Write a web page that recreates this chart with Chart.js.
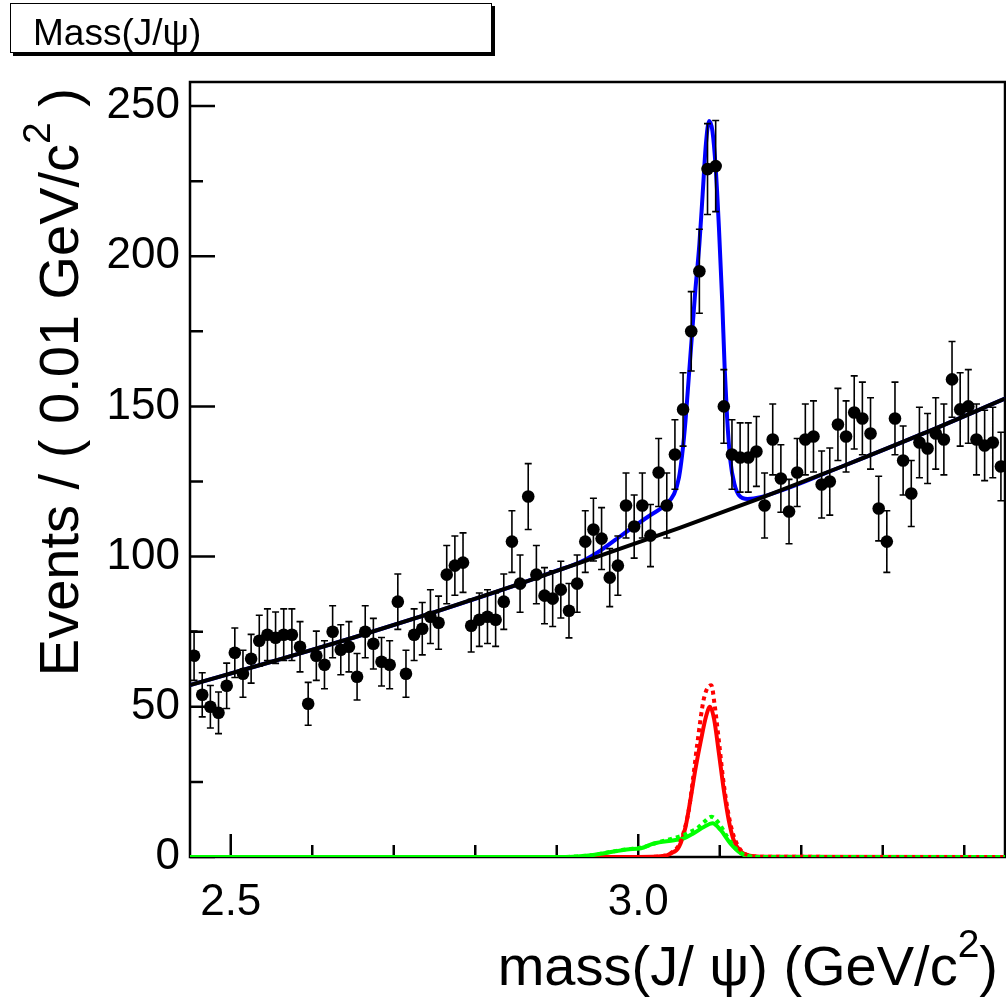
<!DOCTYPE html>
<html>
<head>
<meta charset="utf-8">
<script src="https://cdn.jsdelivr.net/npm/chart.js@4"></script>
<style>
  html, body { margin: 0; padding: 0; background: #fff; overflow: hidden; }
</style>
</head>
<body>
<canvas id="graficoMassa" width="1006" height="997"></canvas>
<script>
// histogram: 100 bins of 0.01 GeV/c2 between 2.45 and 3.45
const massMin = 2.45;
const massMax = 3.45;
const binWidth = 0.01;
const counts = [
  67, 54, 50, 48, 57, 68, 61, 66, 72, 74,
  73, 74, 74, 70, 51, 67, 64, 75, 69, 70,
  60, 75, 71, 65, 64, 85, 61, 74, 76, 80,
  78, 94, 97, 98, 77, 79, 80, 79, 85, 105,
  91, 120, 94, 87, 86, 89, 82, 91, 105, 109,
  106, 93, 97, 117, 110, 117, 107, 128, 117, 134,
  149, 175, 195, 229, 230, 150, 134, 133, 133, 135,
  117, 139, 126, 115, 128, 139, 140, 124, 125, 144,
  140, 148, 146, 141, 116, 105, 146, 132, 121, 138,
  136, 141, 139, 159, 149, 150, 139, 137, 138, 130
];

// fit curves
const bkgMass = [2.45, 2.55, 2.65, 2.75, 2.85, 2.95, 3.05, 3.15, 3.25, 3.35, 3.45];
const bkgVal  = [57.2, 65, 73, 81.5, 90.5, 100, 109.5, 119.5, 130, 141, 152.6];

const totMass = [2.45, 2.55, 2.65, 2.75, 2.85, 2.90, 2.929, 2.954, 2.982, 3.011, 3.032, 3.044, 3.050,
                 3.054, 3.058, 3.062, 3.066, 3.070, 3.075, 3.079, 3.083, 3.087, 3.091, 3.095, 3.099,
                 3.103, 3.106, 3.109, 3.113, 3.118, 3.124, 3.134, 3.15, 3.25, 3.35, 3.45];
const totVal  = [57.2, 65, 73, 81.5, 90.5, 95.3, 98.2, 102.1, 107.6, 113.1, 117, 120.9, 126.4,
                 134.2, 145.3, 159.7, 174.1, 188.5, 204, 220.6, 237.3, 245, 241.7, 229.5, 209.5,
                 185.2, 163, 146.4, 132, 124.2, 120.3, 119.2, 119.8, 130, 141, 152.6];

const redMass = [2.45, 3.00, 3.03, 3.04, 3.05, 3.058, 3.064, 3.070, 3.077, 3.083, 3.088, 3.093,
                 3.099, 3.105, 3.111, 3.117, 3.126, 3.134, 3.15, 3.45];
const redVal  = [0, 0, 0.3, 1.2, 3.4, 10, 19, 29, 39, 46.6, 50, 46, 34.5, 22.3, 12.3, 5.7, 1.8, 0.6, 0.1, 0];

const redDotMass = [2.45, 3.00, 3.03, 3.04, 3.05, 3.056, 3.062, 3.0675, 3.0725, 3.0806, 3.0897, 3.0935,
                    3.0993, 3.1043, 3.1113, 3.1175, 3.126, 3.134, 3.15, 3.45];
const redDotVal  = [0, 0, 0.3, 1.3, 4, 8.5, 15.6, 26.7, 37.8, 52.8, 57.2, 51.1, 37.8, 25.6, 13.4, 6.7, 2.2, 0.7, 0.1, 0];

const greenMass = [2.45, 2.905, 2.925, 2.945, 2.97, 2.986, 3.003, 3.019, 3.044, 3.056, 3.068, 3.081,
                   3.091, 3.101, 3.113, 3.126, 3.136, 3.15, 3.45];
const greenVal  = [0, 0, 0.2, 0.7, 1.8, 2.5, 2.9, 4.5, 5.6, 6.2, 7.9, 10.1, 11.2, 9, 4.5, 1.2, 0.2, 0, 0];

const greenDotMass = [2.45, 2.905, 2.925, 2.945, 2.97, 2.986, 3.003, 3.027, 3.044, 3.056, 3.064, 3.072,
                      3.081, 3.0897, 3.099, 3.109, 3.1216, 3.134, 3.15, 3.45];
const greenDotVal  = [0, 0, 0.2, 0.7, 1.9, 2.6, 3.1, 5.1, 6.3, 7.3, 8.4, 9.5, 11.7, 13.4, 11.2, 6.8, 2.3, 0.4, 0, 0];

// axis ticks and labels
const yMajor = [0, 50, 100, 150, 200, 250];
const yMinor = [25, 75, 125, 175, 225];
const xMajor = [2.5, 3.0];
const xMajorLabels = ['2.5', '3.0'];
const xMinor = [2.6, 2.7, 2.8, 2.9, 3.1, 3.2, 3.3, 3.4];

const FONT = "'Liberation Sans', Arial, Helvetica, sans-serif";

function pares(xs, ys) {
  return xs.map((x, i) => ({ x: x, y: ys[i] }));
}

let pontos = counts.map((n, i) => ({ x: massMin + binWidth * (i + 0.5), y: n }));

function curva(label, xs, ys, cor, ordem, tracejado) {
  return {
    label: label,
    data: pares(xs, ys),
    borderColor: cor,
    borderWidth: 4,
    borderDash: tracejado ? [4, 4] : [],
    pointRadius: 0,
    fill: false,
    cubicInterpolationMode: 'monotone',
    order: ordem
  };
}

// text with a superscript piece
function textoComExpoente(ctx, partes, tam) {
  let larg = 0;
  partes.forEach(p => {
    ctx.font = (p.sup ? Math.round(tam * 0.7) : tam) + 'px ' + FONT;
    p.w = ctx.measureText(p.t).width;
    larg += p.w;
  });
  return larg;
}

function desenhaPartes(ctx, partes, tam, x0, y0) {
  let x = x0;
  partes.forEach(p => {
    ctx.font = (p.sup ? Math.round(tam * 0.7) : tam) + 'px ' + FONT;
    ctx.fillText(p.t, x, p.sup ? y0 - tam * 0.5 : y0);
    x += p.w;
  });
}

const estiloRoot = {
  id: 'estiloRoot',
  beforeDraw(chart) {
    const ctx = chart.ctx;
    ctx.save();
    ctx.fillStyle = '#ffffff';
    ctx.fillRect(0, 0, chart.width, chart.height);
    ctx.restore();
  },
  beforeDatasetsDraw(chart) {
    const ctx = chart.ctx;
    const a = chart.chartArea;
    const xs = chart.scales.x, ys = chart.scales.y;
    ctx.save();
    ctx.strokeStyle = '#000';
    ctx.lineWidth = 2.5;
    ctx.strokeRect(a.left, a.top, a.right - a.left, a.bottom - a.top);
    ctx.beginPath();
    yMajor.forEach(v => { const y = ys.getPixelForValue(v); ctx.moveTo(a.left, y); ctx.lineTo(a.left + 25, y); });
    yMinor.forEach(v => { const y = ys.getPixelForValue(v); ctx.moveTo(a.left, y); ctx.lineTo(a.left + 13, y); });
    xMajor.forEach(v => { const x = xs.getPixelForValue(v); ctx.moveTo(x, a.bottom); ctx.lineTo(x, a.bottom - 23); });
    xMinor.forEach(v => { const x = xs.getPixelForValue(v); ctx.moveTo(x, a.bottom); ctx.lineTo(x, a.bottom - 12); });
    ctx.stroke();

    // tick labels
    ctx.fillStyle = '#000';
    ctx.font = '44px ' + FONT;
    ctx.textAlign = 'right';
    ctx.textBaseline = 'middle';
    yMajor.forEach(v => ctx.fillText(String(v), a.left - 10, ys.getPixelForValue(v)));
    ctx.textAlign = 'center';
    ctx.textBaseline = 'alphabetic';
    xMajor.forEach((v, i) => ctx.fillText(xMajorLabels[i], xs.getPixelForValue(v), a.bottom + 58));
    ctx.restore();
  },
  beforeDatasetDraw(chart, args) {
    if (args.index !== 0) return;
    // error bars sqrt(N)
    const ctx = chart.ctx;
    const xs = chart.scales.x, ys = chart.scales.y;
    ctx.save();
    ctx.strokeStyle = '#000';
    ctx.lineWidth = 1.6;
    ctx.beginPath();
    pontos.forEach(p => {
      const e = Math.sqrt(p.y);
      const x = xs.getPixelForValue(p.x);
      const y1 = ys.getPixelForValue(p.y - e), y2 = ys.getPixelForValue(p.y + e);
      ctx.moveTo(x, y1); ctx.lineTo(x, y2);
      ctx.moveTo(x - 3.5, y1); ctx.lineTo(x + 3.5, y1);
      ctx.moveTo(x - 3.5, y2); ctx.lineTo(x + 3.5, y2);
    });
    ctx.stroke();
    ctx.restore();
  },
  afterDraw(chart) {
    const ctx = chart.ctx;
    ctx.save();
    ctx.fillStyle = '#000';
    ctx.textAlign = 'left';
    ctx.textBaseline = 'alphabetic';

    // title box
    ctx.fillRect(13, 6, 482, 50);
    ctx.fillStyle = '#fff';
    ctx.fillRect(10, 3, 482, 50);
    ctx.strokeStyle = '#000';
    ctx.lineWidth = 1;
    ctx.strokeRect(10.5, 3.5, 481, 49);
    ctx.fillStyle = '#000';
    ctx.font = '37px ' + FONT;
    ctx.fillText('Mass(J/\u03c8)', 33, 45);

    // x title
    const tx = [{ t: 'mass(J/ \u03c8) (GeV/c' }, { t: '2', sup: true }, { t: ')' }];
    const tamX = 56;
    const lx = textoComExpoente(ctx, tx, tamX);
    desenhaPartes(ctx, tx, tamX, 998 - lx, 985);

    // y title
    const ty = [{ t: 'Events / ( 0.01 GeV/c' }, { t: '2', sup: true }, { t: ' )' }];
    const tamY = 56;
    const ly = textoComExpoente(ctx, ty, tamY);
    ctx.translate(78, 88 + ly);
    ctx.rotate(-Math.PI / 2);
    desenhaPartes(ctx, ty, tamY, 0, 0);
    ctx.restore();
  }
};

new Chart(document.getElementById('graficoMassa'), {
  type: 'line',
  data: {
    datasets: [
      {
        label: 'dados',
        data: pontos,
        showLine: false,
        pointRadius: 6.3,
        pointBackgroundColor: '#000',
        pointBorderWidth: 0,
        order: 0
      },
      curva('fundo', bkgMass, bkgVal, '#000000', 1, false),
      curva('total', totMass, totVal, '#0000ff', 2, false),
      curva('verde2', greenDotMass, greenDotVal, '#00ff00', 3, true),
      curva('vermelho2', redDotMass, redDotVal, '#ff0000', 4, true),
      curva('verde', greenMass, greenVal, '#00ff00', 5, false),
      curva('vermelho', redMass, redVal, '#ff0000', 6, false)
    ]
  },
  options: {
    responsive: false,
    animation: false,
    devicePixelRatio: 1,
    layout: { autoPadding: false, padding: { left: 0, right: 1, top: 82, bottom: 0 } },
    plugins: { legend: { display: false }, tooltip: { enabled: false } },
    scales: {
      x: {
        type: 'linear',
        min: massMin,
        max: massMax,
        grid: { display: false, drawTicks: false },
        border: { display: false },
        ticks: { display: false },
        afterFit: s => { s.height = 140; }
      },
      y: {
        min: 0,
        max: 258,
        grid: { display: false, drawTicks: false },
        border: { display: false },
        ticks: { display: false },
        afterFit: s => { s.width = 190; }
      }
    }
  },
  plugins: [estiloRoot]
});
</script>
</body>
</html>
